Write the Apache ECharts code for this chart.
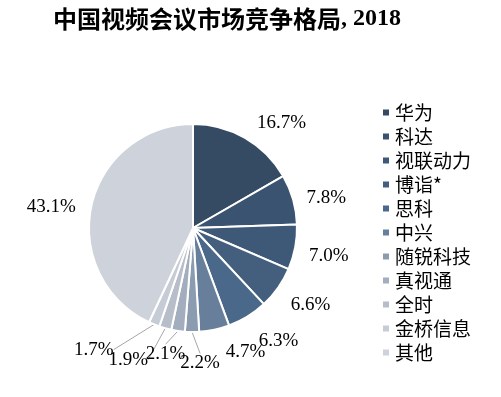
<!DOCTYPE html>
<html>
<head>
<meta charset="utf-8">
<script src="https://cdn.jsdelivr.net/npm/echarts@6/dist/echarts.min.js"></script>
<style>
  html, body { margin: 0; padding: 0; background: #fff; }
</style>
</head>
<body>
<div id="main" style="width:501px;height:397px;"></div>
<script>
// 厂商 / 份额(%)
var vendors = ['华为', '科达', '视联动力', '博诣*', '思科', '中兴', '随锐科技', '真视通', '全时', '金桥信息', '其他'];
var shares = [16.7, 7.8, 7.0, 6.6, 6.3, 4.7, 2.2, 2.1, 1.9, 1.7, 43.1];
var colors = ['#354b63', '#3a5370', '#3e5977', '#445f7e', '#4a6889', '#677f9b',
              '#8c9cb0', '#a2adbd', '#b7bec9', '#c6ccd5', '#cdd2db'];
// 标签微调(像原图那样挤在一起)
var labelNudge = [[1, -5], [-3, 2], [-3, 6], [-2, 10], [0, 14], [4, 10],
                  [33, 19], [14, 11], [-9, 20], [-31, 14], [1, 4]];

var myChart = echarts.init(document.getElementById('main'));

var pieData = vendors.map(function (name, i) {
    var small = shares[i] < 3;   // 小份额才画引导线
    return {
        name: name,
        value: shares[i],
        itemStyle: { color: colors[i] },
        labelLine: { show: small }
    };
});

myChart.setOption({
    animation: false,
    title: {
        text: '{cn|中国视频会议市场竞争格局}{en|, 2018}',
        left: 53,
        top: 7,
        padding: 0,
        textStyle: {
            rich: {
                cn: { fontFamily: 'Noto Sans CJK SC', fontWeight: 'bold', fontSize: 24, color: '#000' },
                en: { fontFamily: 'Liberation Serif', fontWeight: 'bold', fontSize: 24, color: '#000' }
            }
        }
    },
    legend: {
        orient: 'vertical',
        left: 381,
        top: 103,
        padding: 0,
        itemWidth: 8,
        itemHeight: 8,
        itemGap: 5,
        icon: 'rect',
        textStyle: {
            fontFamily: 'Noto Sans CJK SC',
            fontSize: 19,
            lineHeight: 19,
            color: '#000'
        },
        data: vendors
    },
    series: [
        {
            type: 'pie',
            center: [193, 228],
            radius: 104,
            startAngle: 90,
            clockwise: true,
            avoidLabelOverlap: false,
            itemStyle: { borderColor: '#fff', borderWidth: 2 },
            label: {
                show: true,
                position: 'outside',
                formatter: function (p) { return p.value.toFixed(1) + '%'; },
                fontFamily: 'Liberation Serif',
                fontSize: 19,
                color: '#000'
            },
            labelLine: {
                length: 12,
                length2: 0,
                lineStyle: { color: '#a6a6a6', width: 1 }
            },
            labelLayout: function (p) {
                var d = labelNudge[p.dataIndex];
                return {
                    x: p.labelRect.x + d[0],
                    y: p.labelRect.y + d[1],
                    align: 'left',
                    verticalAlign: 'top'
                };
            },
            data: pieData
        }
    ]
});
</script>
</body>
</html>
